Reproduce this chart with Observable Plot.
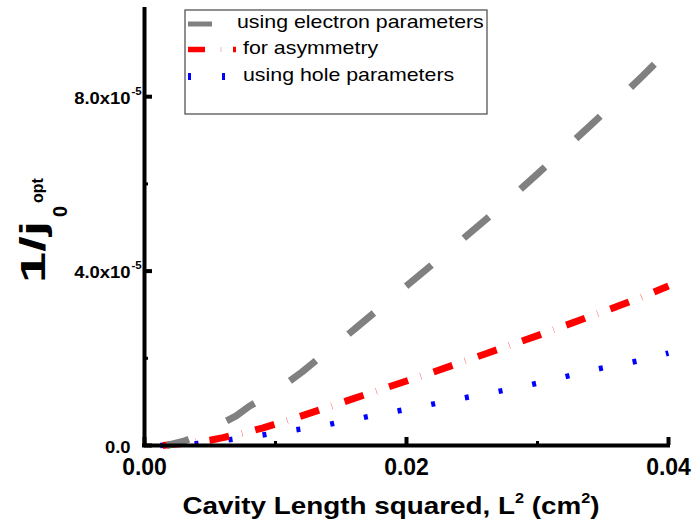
<!DOCTYPE html>
<html><head><meta charset="utf-8">
<script src="https://cdn.jsdelivr.net/npm/d3@7"></script>
<script src="https://cdn.jsdelivr.net/npm/@observablehq/plot@0.6"></script>
<style>
html,body{margin:0;padding:0;background:#fff;}
svg{display:block;}
</style></head><body><div id="chart"></div>
<script>
// Cavity length squared L^2 (cm^2) and 1/j0^opt values (in units of 1e-5)
const electronX = [0.0017,0.003,0.004,0.005,0.006,0.007,0.008,0.010,0.012,0.014,0.016,0.018,0.020,0.022,0.024,0.026,0.028,0.030,0.032,0.034,0.036,0.038,0.040];
const electronY = [0,0.10,0.22,0.36,0.52,0.68,0.90,1.24,1.68,2.17,2.66,3.16,3.66,4.16,4.66,5.17,5.69,6.23,6.78,7.33,7.89,8.47,9.06];
const asymX = [0.0014,0.002,0.003,0.004,0.005,0.006,0.007,0.008,0.009,0.010,0.012,0.014,0.016,0.018,0.020,0.022,0.024,0.026,0.028,0.030,0.032,0.034,0.036,0.038,0.040];
const asymY = [0,0.02,0.05,0.08,0.12,0.18,0.25,0.32,0.40,0.49,0.68,0.88,1.08,1.28,1.48,1.68,1.89,2.10,2.31,2.52,2.74,2.96,3.18,3.41,3.66];
const holeX = [0.0012,0.002,0.003,0.004,0.005,0.006,0.007,0.008,0.009,0.010,0.012,0.014,0.016,0.018,0.020,0.022,0.024,0.026,0.028,0.030,0.032,0.034,0.036,0.038,0.040];
const holeY = [0,0.015,0.03,0.045,0.075,0.11,0.155,0.20,0.24,0.29,0.38,0.48,0.60,0.72,0.83,0.95,1.07,1.18,1.30,1.43,1.57,1.72,1.84,1.96,2.12];

const seriesNames = ["using electron parameters","for asymmetry","using hole parameters"];
const xTicksMajor = [0, 0.02, 0.04];
const xTickLabels = ["0.00","0.02","0.04"];
const xTicksMinor = [0.01, 0.03];
const yTicksMajor = [0, 4, 8];
const yTickLabels = ["0.0","4.0x10","8.0x10"];
const yTickExp = ["","-5","-5"];
const yTicksMinor = [2, 6];

const FONT = "'Liberation Sans', Arial, Helvetica, sans-serif";
const toRows = (xs, ys) => xs.map((x, i) => ({x, y: ys[i]}));

const W = 699, H = 525, ML = 144, MR = 31, MT = 9, MB = 80;
const frameW = W - ML - MR, frameH = H - MT - MB;

const plot = Plot.plot({
  width: W, height: H,
  marginLeft: ML, marginRight: MR, marginTop: MT, marginBottom: MB,
  style: {fontFamily: FONT, background: "white", overflow: "visible"},
  x: {domain: [0, 0.04], axis: null},
  y: {domain: [0, 10], axis: null},
  marks: [
    Plot.line(toRows(holeX, holeY), {x: "x", y: "y", stroke: "#0000ff", strokeWidth: 5.5, strokeLinecap: "butt", strokeLinejoin: "miter", strokeDasharray: "4,30.3"}),
    Plot.line(toRows(asymX, asymY), {x: "x", y: "y", stroke: "#ff0000", strokeWidth: 7, strokeLinecap: "butt", strokeLinejoin: "miter", strokeDasharray: "20,13.3,0.3,13.3"}),
    Plot.line(toRows(electronX, electronY), {x: "x", y: "y", stroke: "#808080", strokeWidth: 7, strokeLinecap: "butt", strokeLinejoin: "miter", strokeDasharray: "33,42", strokeDashoffset: 10}),
    Plot.ruleX([0], {stroke: "black", strokeWidth: 4, strokeLinecap: "square"}),
    Plot.ruleY([0], {stroke: "black", strokeWidth: 4, strokeLinecap: "square"}),
    Plot.tickY(yTicksMajor, {y: d => d, stroke: "black", strokeWidth: 4, insetRight: frameW - 8}),
    Plot.tickY(yTicksMinor, {y: d => d, stroke: "black", strokeWidth: 3, insetRight: frameW - 4}),
    Plot.tickX(xTicksMajor, {x: d => d, stroke: "black", strokeWidth: 4, insetTop: frameH - 8}),
    Plot.tickX(xTicksMinor, {x: d => d, stroke: "black", strokeWidth: 3, insetTop: frameH - 4}),
    Plot.text(xTicksMajor, {x: d => d, y: 0, text: (d, i) => xTickLabels[i], dy: 22, fontSize: 23, fontWeight: "bold", fontFamily: FONT, fill: "black", textAnchor: "middle"}),
    Plot.text(yTicksMajor, {x: 0, y: d => d, text: (d, i) => yTickLabels[i], dx: (-14), dy: 2, fontSize: 16, fontWeight: "bold", fontFamily: FONT, fill: "black", textAnchor: "end"}),
    Plot.text(yTicksMajor.filter((d, i) => yTickExp[i]), {x: 0, y: d => d, text: (d) => yTickExp[yTicksMajor.indexOf(d)], dx: -13, dy: -5, fontSize: 10, fontWeight: "bold", fontFamily: FONT, fill: "black", textAnchor: "start"})
  ]
});
document.getElementById("chart").appendChild(plot);
const svg = d3.select(plot);

// stretch y tick labels horizontally like the reference
svg.selectAll("g[aria-label='text'] text").each(function() {
  const fs = +getComputedStyle(this).fontSize.replace("px","");
  if (fs < 20) {
    const w = this.getComputedTextLength();
    this.setAttribute("textLength", w * 1.15);
    this.setAttribute("lengthAdjust", "spacingAndGlyphs");
  }
});

// Y axis title: 1/j_0^opt
const yt = svg.append("g").attr("transform", "translate(45,283) rotate(-90)")
  .attr("font-family", FONT).attr("font-weight", "bold").attr("fill", "black")
  .attr("text-anchor", "start");
yt.append("text").attr("transform", "scale(1.6,1)").attr("font-size", 35).text("1/j");
yt.append("text").attr("x", 66).attr("y", 22).attr("font-size", 20).text("0");
yt.append("text").attr("x", 80).attr("y", -2).attr("font-size", 16).text("opt");

// X axis title
const xt = svg.append("g").attr("transform", "translate(391,514) scale(1.16,1)")
  .append("text").attr("text-anchor", "middle").attr("font-family", FONT)
  .attr("font-weight", "bold").attr("font-size", 24).attr("fill", "black");
xt.append("tspan").text("Cavity Length squared, L");
xt.append("tspan").attr("font-size", 14).attr("dy", -11).text("2");
xt.append("tspan").attr("dy", 11).text(" (cm");
xt.append("tspan").attr("font-size", 14).attr("dy", -11).text("2");
xt.append("tspan").attr("dy", 11).text(")");

// Legend
const lg = svg.append("g").attr("text-anchor", "start");
lg.append("rect").attr("x", 185).attr("y", 10).attr("width", 302).attr("height", 104)
  .attr("fill", "white").attr("stroke", "#555").attr("stroke-width", 1.3);
lg.append("line").attr("x1", 188).attr("x2", 212).attr("y1", 24).attr("y2", 24).attr("stroke", "#808080").attr("stroke-width", 5);
lg.append("line").attr("x1", 188).attr("x2", 205).attr("y1", 49.5).attr("y2", 49.5).attr("stroke", "#ff0000").attr("stroke-width", 5.5);
lg.append("line").attr("x1", 221).attr("x2", 221).attr("y1", 47).attr("y2", 52).attr("stroke", "#f7b5b5").attr("stroke-width", 1);
lg.append("line").attr("x1", 233).attr("x2", 236).attr("y1", 49.5).attr("y2", 49.5).attr("stroke", "#ff0000").attr("stroke-width", 5.5);
lg.append("rect").attr("x", 188).attr("y", 73).attr("width", 3).attr("height", 7).attr("fill", "#0000ff");
lg.append("rect").attr("x", 222).attr("y", 73).attr("width", 3).attr("height", 7).attr("fill", "#0000ff");
const legX = [237, 243, 243], legY = [28, 54, 81];
seriesNames.forEach((name, i) => {
  lg.append("g").attr("transform", `translate(${legX[i]},${legY[i]}) scale(1.22,1)`)
    .append("text").attr("font-family", FONT).attr("font-weight", "normal")
    .attr("font-size", 17.5).attr("fill", "black").attr("text-anchor", "start").text(name);
});
</script></body></html>
